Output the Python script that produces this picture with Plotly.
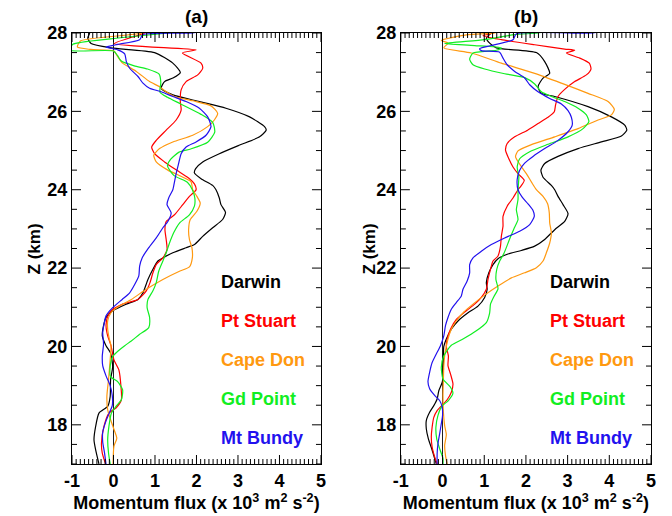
import plotly.graph_objects as go

# ---------------- data: panel (a) ----------------
a_darwin_z = [28.1, 27.98, 27.87, 27.73, 27.62, 27.5, 27.23, 26.99, 26.85, 26.76, 26.59, 26.42, 26.25, 26.08, 25.86,
              25.61, 25.52, 25.35, 25.14, 24.92, 24.71, 24.54, 24.43, 24.28, 24.11, 24.0, 23.79, 23.62, 23.42, 23.24,
              23.03, 22.81, 22.6, 22.52, 22.39, 22.26, 22.18, 21.97, 21.71, 21.37, 21.2, 21.08, 20.91, 20.74, 20.53,
              20.27, 20.02, 19.83, 19.49, 19.15, 18.72, 18.47, 18.3, 17.96, 17.62, 17.36, 17.0]
a_darwin_f = [-0.55, -0.58, -0.62, -0.54, -0.06, 0.99, 1.43, 1.61, 1.43, 1.23, 1.15, 1.43, 2.07, 2.71, 3.28,
              3.64, 3.68, 3.52, 3.04, 2.55, 2.15, 1.98, 1.95, 2.11, 2.39, 2.47, 2.55, 2.59, 2.70, 2.63,
              2.39, 2.15, 1.95, 1.75, 1.43, 1.19, 1.07, 0.95, 0.83, 0.71, 0.59, 0.31, -0.02, -0.18, -0.24,
              -0.27, -0.18, -0.07, -0.02, -0.07, -0.08, -0.14, -0.35, -0.43, -0.47, -0.43, -0.35]

a_stuart_z = [28.1, 28.0, 27.73, 27.57, 27.49, 27.23, 27.1, 26.93, 26.76, 26.55, 26.25, 26.03, 25.78, 25.52, 25.26,
              25.09, 24.92, 24.71, 24.45, 24.28, 24.15, 24.0, 23.83, 23.62, 23.36, 23.19, 22.98, 22.73, 22.47, 22.26,
              22.09, 21.88, 21.63, 21.42, 21.2, 21.08, 20.91, 20.74, 20.53, 20.27, 20.02, 19.66, 19.4, 18.98, 18.64,
              18.43, 18.3, 17.96, 17.53, 17.28, 17.0]
a_stuart_f = [0.85, 0.75, 0.02, 1.99, 1.66, 2.11, 2.15, 2.03, 1.75, 1.63, 1.61, 1.63, 1.51, 1.27, 1.03,
              0.92, 0.99, 1.23, 1.59, 1.83, 1.95, 1.99, 1.83, 1.67, 1.47, 1.27, 1.24, 1.27, 1.29, 1.19,
              1.03, 0.95, 0.88, 0.79, 0.59, 0.22, -0.06, -0.15, -0.18, -0.14, -0.06, 0.01, 0.13, 0.18, 0.19,
              0.06, -0.11, -0.23, -0.29, -0.27, -0.19]

a_capedon_z = [28.1, 28.0, 27.8, 27.64, 27.58, 27.54, 27.4, 27.23, 27.02, 26.76, 26.63, 26.5, 26.38, 26.27, 26.14,
               25.95, 25.78, 25.61, 25.39, 25.22, 25.05, 24.88, 24.71, 24.5, 24.32, 24.2, 24.0, 23.83, 23.66, 23.45,
               23.24, 22.98, 22.73, 22.52, 22.26, 22.03, 21.92, 21.71, 21.46, 21.2, 21.03, 20.86, 20.65, 20.44, 20.19,
               20.02, 19.66, 19.15, 18.72, 18.38, 18.13, 17.83, 17.66, 17.45, 17.0]
a_capedon_f = [0.85, 0.70, -0.79, -0.87, -0.55, 0.01, 0.10, 0.22, 0.55, 0.87, 1.11, 1.27, 1.47, 1.91, 2.35,
               2.51, 2.43, 2.27, 1.91, 1.43, 1.11, 0.97, 1.03, 1.31, 1.67, 1.87, 1.91, 2.01, 2.09, 2.01,
               1.85, 1.81, 1.83, 1.89, 1.90, 1.83, 1.59, 1.19, 0.79, 0.43, 0.14, -0.06, -0.14, -0.14, -0.10,
               -0.06, -0.08, -0.12, -0.16, -0.14, -0.07, 0.03, 0.08, 0.01, -0.01]

a_gdpoint_z = [28.05, 28.0, 27.93, 27.85, 27.71, 27.56, 27.54, 27.42, 27.29, 27.16, 27.08, 26.95, 26.74, 26.49, 26.36,
               26.19, 25.93, 25.72, 25.47, 25.21, 25.04, 24.96, 24.78, 24.61, 24.36, 24.19, 24.0, 23.79, 23.58, 23.36,
               23.15, 22.9, 22.64, 22.39, 22.18, 21.92, 21.63, 21.42, 21.2, 20.99, 20.74, 20.48, 20.31, 20.14, 20.02,
               19.91, 19.74, 19.49, 19.23, 19.10, 18.89, 18.64, 18.47, 18.3, 17.96, 17.62, 17.28, 17.0]
a_gdpoint_f = [1.6, 1.30, 0.66, -0.07, -0.98, -1.05, 0.0, 0.10, 0.18, 0.50, 0.82, 1.10, 1.14, 1.12, 1.30,
               1.62, 2.10, 2.39, 2.44, 2.27, 1.86, 1.58, 1.38, 1.30, 1.46, 1.78, 1.90, 1.96, 1.95, 1.83,
               1.59, 1.45, 1.35, 1.27, 1.19, 1.09, 1.03, 0.95, 0.83, 0.81, 0.87, 0.85, 0.63, 0.43, 0.27,
               0.14, -0.02, -0.08, -0.07, 0.10, 0.22, 0.19, 0.06, -0.05, -0.11, -0.14, -0.12, -0.08]

a_bundy_z = [28.05, 28.0, 27.96, 27.83, 27.7, 27.64, 27.57, 27.47, 27.27, 27.1, 26.89, 26.72, 26.59, 26.5, 26.38,
             26.25, 26.08, 25.86, 25.61, 25.39, 25.22, 25.09, 24.92, 24.67, 24.41, 24.2, 24.0, 23.79, 23.62, 23.41,
             23.19, 23.03, 22.77, 22.52, 22.26, 22.05, 21.8, 21.58, 21.37, 21.2, 20.99, 20.78, 20.61, 20.36, 20.06,
             19.76, 19.51, 19.25, 19.0, 18.75, 18.49, 18.28, 18.07, 17.81, 17.56, 17.31, 17.0]
a_bundy_f = [2.1, 1.91, 0.71, 0.63, 0.06, -0.18, 0.10, 0.27, 0.31, 0.39, 0.59, 0.71, 0.87, 1.15, 1.43,
             1.75, 2.07, 2.27, 2.35, 2.23, 1.99, 1.75, 1.63, 1.57, 1.51, 1.47, 1.43, 1.33, 1.29, 1.39,
             1.31, 1.19, 1.03, 0.85, 0.69, 0.63, 0.61, 0.51, 0.39, 0.21, -0.02, -0.18, -0.22, -0.26, -0.24,
             -0.27, -0.26, -0.18, -0.08, -0.03, -0.03, -0.11, -0.19, -0.26, -0.26, -0.22, -0.18]

# ---------------- data: panel (b) ----------------
b_darwin_z = [28.05, 28.0, 27.87, 27.74, 27.62, 27.5, 27.27, 26.97, 26.85, 26.63, 26.46, 26.38, 26.12, 25.86, 25.65,
              25.52, 25.37, 25.22, 25.05, 24.85, 24.67, 24.5, 24.32, 24.11, 24.0, 23.83, 23.62, 23.39, 23.19, 22.98,
              22.73, 22.56, 22.45, 22.36, 22.24, 22.09, 21.88, 21.63, 21.46, 21.25, 21.03, 20.86, 20.65, 20.44, 20.19,
              20.0, 19.68, 19.34, 19.08, 18.87, 18.66, 18.49, 18.32, 18.11, 17.9, 17.64, 17.39, 17.0]
b_darwin_f = [1.22, 1.17, 1.05, 1.13, 1.29, 2.25, 2.45, 2.57, 2.41, 2.29, 2.37, 2.69, 3.49, 4.05, 4.37,
              4.42, 4.29, 3.81, 3.25, 2.77, 2.45, 2.36, 2.41, 2.61, 2.69, 2.77, 2.89, 3.01, 2.93, 2.69,
              2.45, 2.21, 1.89, 1.57, 1.33, 1.21, 1.11, 1.05, 1.07, 1.01, 0.85, 0.61, 0.37, 0.21, 0.09,
              0.03, 0.02, 0.02, -0.01, -0.09, -0.13, -0.21, -0.31, -0.39, -0.39, -0.34, -0.26, -0.15]

b_stuart_z = [28.05, 28.0, 27.93, 27.83, 27.7, 27.59, 27.56, 27.49, 27.36, 27.23, 27.08, 26.93, 26.76, 26.56, 26.38,
              26.16, 25.99, 25.85, 25.69, 25.52, 25.35, 25.18, 25.01, 24.79, 24.58, 24.41, 24.24, 24.09, 24.0, 23.79,
              23.58, 23.32, 23.07, 22.81, 22.56, 22.31, 22.18, 21.97, 21.71, 21.46, 21.25, 21.08, 20.91, 20.69, 20.44,
              20.19, 20.0, 19.76, 19.51, 19.3, 19.04, 18.83, 18.64, 18.49, 18.36, 18.19, 17.94, 17.69, 17.43, 17.18, 17.0]
b_stuart_f = [1.3, 1.21, 0.97, 1.41, 2.21, 2.93, 3.17, 2.97, 3.29, 3.52, 3.56, 3.45, 3.17, 2.93, 2.77,
              2.71, 2.68, 2.53, 2.29, 2.04, 1.73, 1.55, 1.51, 1.59, 1.69, 1.81, 1.96, 1.88, 1.81, 1.69,
              1.55, 1.45, 1.45, 1.41, 1.39, 1.33, 1.21, 1.15, 1.09, 1.05, 0.93, 0.77, 0.57, 0.33, 0.19,
              0.11, 0.09, 0.14, 0.13, 0.19, 0.25, 0.21, 0.11, -0.02, -0.13, -0.21, -0.25, -0.27, -0.25, -0.19, -0.13]

b_capedon_z = [28.05, 28.0, 27.96, 27.81, 27.74, 27.62, 27.49, 27.23, 26.97, 26.72, 26.46, 26.25, 26.05, 25.91, 25.78,
               25.56, 25.35, 25.15, 24.99, 24.84, 24.62, 24.41, 24.2, 24.0, 23.83, 23.64, 23.41, 23.15, 22.9, 22.64,
               22.39, 22.18, 22.01, 21.88, 21.75, 21.54, 21.31, 21.08, 20.88, 20.65, 20.44, 20.19, 20.0, 19.76, 19.51,
               19.17, 18.75, 18.32, 17.98, 17.75, 17.47, 17.22, 17.0]
b_capedon_f = [1.35, 1.25, 0.61, -0.03, 0.13, 0.03, 0.69, 1.41, 2.21, 2.85, 3.49, 3.97, 4.12, 4.05, 3.73,
               3.25, 2.69, 2.13, 1.81, 1.75, 1.87, 2.01, 2.13, 2.25, 2.41, 2.52, 2.56, 2.57, 2.61, 2.57,
               2.49, 2.41, 2.25, 1.97, 1.65, 1.33, 1.01, 0.73, 0.51, 0.33, 0.21, 0.13, 0.09, 0.05, 0.03,
               0.02, 0.01, 0.02, 0.05, 0.09, 0.05, 0.07, 0.11]

b_gdpoint_z = [28.05, 28.0, 27.96, 27.83, 27.73, 27.68, 27.62, 27.56, 27.49, 27.33, 27.19, 27.08, 26.96, 26.86, 26.7,
               26.5, 26.38, 26.25, 26.08, 25.91, 25.74, 25.56, 25.35, 25.16, 24.97, 24.79, 24.58, 24.32, 24.0, 23.75,
               23.49, 23.24, 23.0, 22.8, 22.58, 22.37, 22.18, 21.97, 21.71, 21.47, 21.27, 21.08, 20.86, 20.61, 20.4,
               20.19, 20.03, 19.76, 19.47, 19.17, 18.96, 18.81, 18.62, 18.47, 18.24, 17.94, 17.64, 17.39, 17.14, 17.0]
b_gdpoint_f = [2.5, 2.29, 1.73, 1.01, 0.05, 0.77, 1.41, 1.29, 0.73, 0.65, 0.73, 1.01, 1.49, 1.97, 2.21,
               2.37, 2.61, 2.93, 3.25, 3.45, 3.51, 3.37, 3.01, 2.53, 2.09, 1.85, 1.79, 1.83, 1.81, 1.81,
               1.77, 1.81, 1.71, 1.63, 1.55, 1.47, 1.37, 1.30, 1.28, 1.33, 1.23, 1.15, 1.13, 1.05, 0.81,
               0.49, 0.21, 0.03, -0.03, 0.01, 0.19, 0.25, 0.14, -0.02, -0.11, -0.16, -0.14, -0.07, 0.01, 0.01]

b_bundy_z = [28.05, 28.0, 27.98, 27.83, 27.68, 27.6, 27.55, 27.51, 27.36, 27.19, 27.02, 26.85, 26.68, 26.5, 26.33,
             26.19, 26.02, 25.85, 25.65, 25.48, 25.26, 25.05, 24.85, 24.68, 24.5, 24.26, 24.0, 23.81, 23.64, 23.47,
             23.32, 23.11, 22.94, 22.77, 22.6, 22.43, 22.26, 22.09, 21.88, 21.67, 21.46, 21.29, 21.12, 20.95, 20.74,
             20.53, 20.27, 20.02, 19.81, 19.59, 19.34, 19.1, 18.92, 18.75, 18.62, 18.45, 18.24, 18.03, 17.77, 17.52,
             17.26, 17.0]
b_bundy_f = [3.8, 3.61, 1.77, 1.69, 1.17, 0.89, 0.93, 1.37, 1.45, 1.55, 1.73, 1.97, 2.09, 2.29, 2.57,
             2.85, 3.01, 3.09, 3.11, 3.01, 2.77, 2.45, 2.17, 1.97, 1.85, 1.79, 1.81, 1.91, 2.05, 2.17,
             2.20, 2.09, 1.85, 1.49, 1.17, 0.93, 0.73, 0.65, 0.65, 0.59, 0.49, 0.45, 0.33, 0.21, 0.13,
             0.07, 0.03, -0.05, -0.15, -0.25, -0.31, -0.35, -0.31, -0.19, -0.07, -0.01, 0.0, -0.03, -0.07, -0.11,
             -0.13, -0.13]

station_names = ["Darwin", "Pt Stuart", "Cape Don", "Gd Point", "Mt Bundy"]
station_colors = ["#000000", "#ff0000", "#ff9910", "#11ee22", "#2211ee"]
legend_z = [21.65, 20.66, 19.66, 18.66, 17.67]
x_ticks = [-1, 0, 1, 2, 3, 4, 5]
x_ticktext = ["-1", "0", "1", "2", "3", "4", "5"]
y_ticks = [18, 20, 22, 24, 26, 28]
y_ticktext = ["18", "20", "22", "24", "26", "28"]
panel_labels = ["(a)", "(b)"]

panels = [
    [(a_darwin_z, a_darwin_f), (a_stuart_z, a_stuart_f), (a_capedon_z, a_capedon_f),
     (a_gdpoint_z, a_gdpoint_f), (a_bundy_z, a_bundy_f)],
    [(b_darwin_z, b_darwin_f), (b_stuart_z, b_stuart_f), (b_capedon_z, b_capedon_f),
     (b_gdpoint_z, b_gdpoint_f), (b_bundy_z, b_bundy_f)],
]

FONT = "Liberation Sans"
fig = go.Figure()

for p, series in enumerate(panels):
    xa = "x" if p == 0 else "x2"
    ya = "y" if p == 0 else "y2"
    for (z, f), name, col in zip(series, station_names, station_colors):
        fig.add_trace(go.Scatter(x=f, y=z, mode="lines", name=name,
                                 line=dict(color=col, width=1.2, shape="spline", smoothing=0.6),
                                 xaxis=xa, yaxis=ya, showlegend=False))
    for name, col, zz in zip(station_names, station_colors, legend_z):
        fig.add_annotation(x=2.54, y=zz, xref=xa, yref=ya, text="<b>" + name + "</b>",
                           showarrow=False, xanchor="left", yanchor="middle",
                           font=dict(family=FONT, size=18, color=col))

# tick decoration drawn as pixel-sized shapes on the axes (positions derived from the tick arrays)
x_minor = [round(x_ticks[0] + 0.1 * i, 1) for i in range(int((x_ticks[-1] - x_ticks[0]) * 10) + 1)]
y_minor = [round(17 + 0.5 * i, 1) for i in range(23)]
tick_shapes = []
for p in range(2):
    xa = "x" if p == 0 else "x2"
    ya = "y" if p == 0 else "y2"
    for v in x_minor:
        L = 9 if abs(v - round(v)) < 1e-9 else 5
        for anc, sgn in [(0, 1), (1, -1)]:
            tick_shapes.append(dict(type="line", xref=xa, yref=ya + " domain", x0=v, x1=v,
                                    ysizemode="pixel", yanchor=anc, y0=0, y1=sgn * L,
                                    line=dict(color="black", width=1), layer="above"))
    for v in y_minor:
        L = 9 if v in y_ticks else 5
        for anc, sgn in [(0, 1), (1, -1)]:
            tick_shapes.append(dict(type="line", xref=xa + " domain", yref=ya, y0=v, y1=v,
                                    xsizemode="pixel", xanchor=anc, x0=0, x1=sgn * L,
                                    line=dict(color="black", width=1), layer="above"))

tickfont = dict(family=FONT, size=18, color="black")
xtitle = "<b>Momentum flux (x 10<sup>3</sup> m<sup>2</sup> s<sup>-2</sup>)</b>"
bold = lambda labels: ["<b>" + t + "</b>" for t in labels]

def xaxis(domain, anchor):
    return dict(domain=domain, anchor=anchor, range=[-1, 5], tickmode="array", tickvals=x_ticks,
                ticktext=bold(x_ticktext), ticks="", showline=True, linecolor="#000", mirror=True,
                gridcolor="rgba(0,0,0,0)", zerolinecolor="#222", zerolinewidth=1,
                tickfont=tickfont,
                title=dict(text=xtitle, font=dict(family=FONT, size=18, color="black"), standoff=0))

def yaxis(anchor):
    return dict(anchor=anchor, range=[17, 28], tickmode="array", tickvals=y_ticks,
                ticktext=bold(y_ticktext), ticks="", showline=True, linecolor="#000", mirror=True,
                gridcolor="rgba(0,0,0,0)", zeroline=False, tickfont=tickfont)

dom_a = [0, 0.430]
dom_b = [0.568, 1.0]
# the page body adds an 8 px offset, so margins are shifted to compensate
fig.update_layout(
    width=672, height=516,
    margin=dict(l=64, r=29, t=25, b=60),
    paper_bgcolor="#fff", plot_bgcolor="#fff",
    xaxis=xaxis(dom_a, "y"), yaxis=yaxis("x"),
    xaxis2=xaxis(dom_b, "y2"), yaxis2=yaxis("x2"),
    showlegend=False,
    shapes=tick_shapes,
)

for lab, dom in zip(panel_labels, [dom_a, dom_b]):
    fig.add_annotation(x=(dom[0] + dom[1]) / 2, y=1.038, xref="paper", yref="paper",
                       text="<b>" + lab + "</b>", showarrow=False, xanchor="center", yanchor="middle",
                       borderpad=0, font=dict(family=FONT, size=19, color="black"))

for xpos in [-0.064, 0.568 - 0.0535]:
    fig.add_annotation(x=xpos, y=0.5, xref="paper", yref="paper", text="<b>Z (km)</b>",
                       textangle=-90, showarrow=False, xanchor="center", yanchor="middle",
                       font=dict(family=FONT, size=17, color="black"))

fig.write_html("out.html")
